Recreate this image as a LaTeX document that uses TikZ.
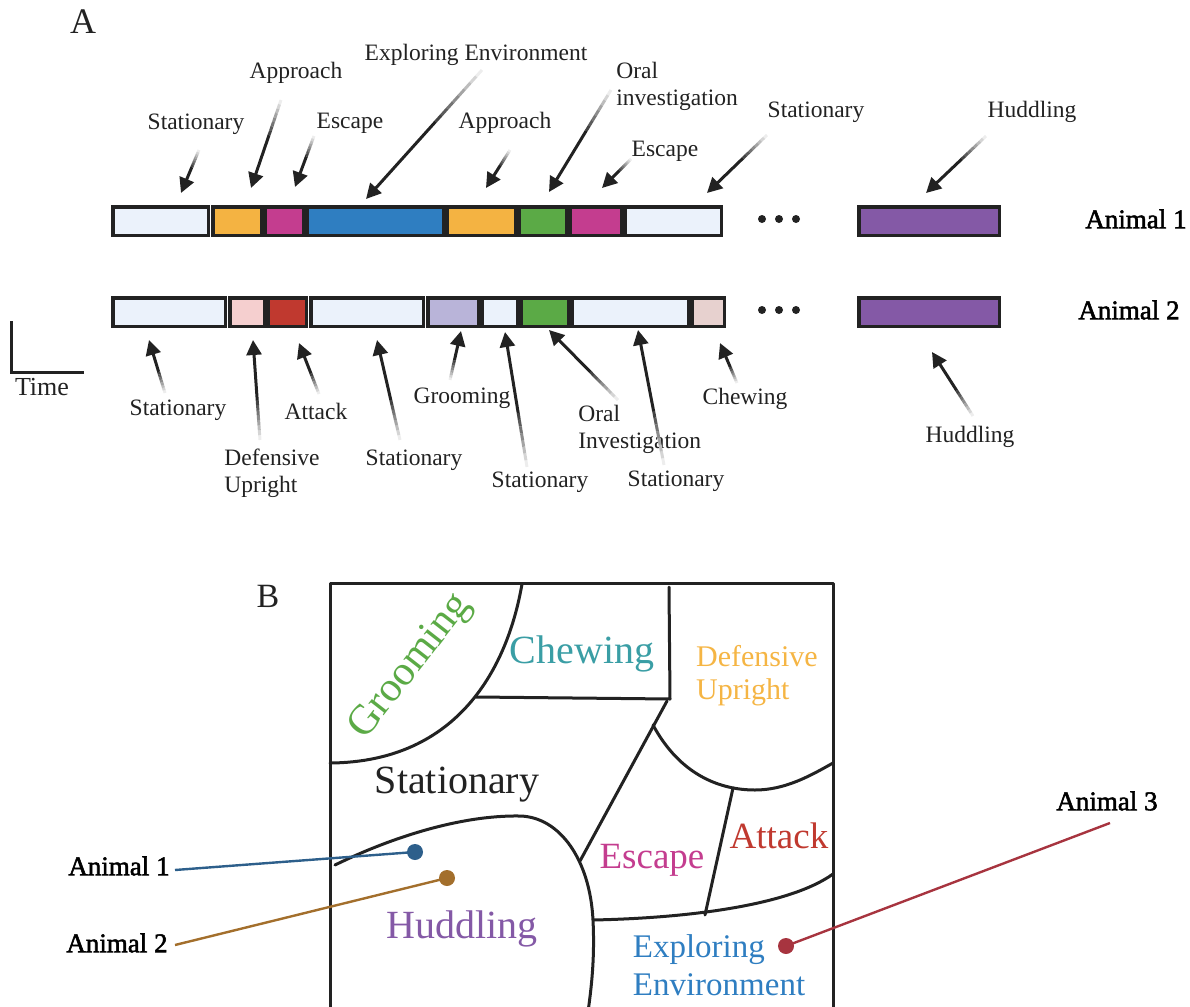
\documentclass[tikz,border=0pt]{standalone}
\usepackage{fontspec}
\setmainfont{Liberation Serif}
\newfontfamily\heavyserif[FakeBold=2]{Liberation Serif}
\usetikzlibrary{arrows.meta,calc}

\definecolor{ink}{HTML}{222222}
\definecolor{calm}{HTML}{EBF2FB}
\definecolor{amber}{HTML}{F4B342}
\definecolor{plum}{HTML}{C43D8F}
\definecolor{ocean}{HTML}{2F7EC1}
\definecolor{leaf}{HTML}{5BAA46}
\definecolor{violet}{HTML}{8459A6}
\definecolor{blush}{HTML}{F5CFCF}
\definecolor{brick}{HTML}{C0392F}
\definecolor{lilac}{HTML}{B9B4D9}
\definecolor{rose}{HTML}{E7D1CF}
\definecolor{teal}{HTML}{3A9EA5}
\definecolor{sand}{HTML}{F5B544}
\definecolor{navy}{HTML}{2D5F8B}
\definecolor{bronze}{HTML}{A36F2C}
\definecolor{wine}{HTML}{A7343F}

\tikzset{
  segbox/.style={draw=ink, line width=1.75pt, rectangle, inner sep=0pt, minimum height=14.25pt},
  lab/.style={inner sep=0pt, text=ink, font=\fontsize{11.75pt}{13.5pt}\selectfont},
  animal/.style={inner sep=0pt, text=black, font=\heavyserif\fontsize{13.5pt}{16pt}\selectfont},
  panel/.style={inner sep=0pt, text=ink},
  arrowline/.style={line width=1.5pt, draw=ink, -{Triangle[length=7.5pt,width=7.5pt]}},
  dotnode/.style={circle, fill=ink, inner sep=0pt, minimum size=4pt},
  region/.style={line width=1.5pt, draw=ink, line cap=round, line join=round},
  pin/.style={circle, inner sep=0pt, minimum size=8pt},
  big/.style={inner sep=0pt, font=\fontsize{20pt}{24pt}\selectfont}
}

% one bar segment: name, left edge, right edge, centre line, fill
\newcommand\seg[5]{\node[segbox, fill=#5, minimum width={(#3-#2-3.5)*0.5pt}] (#1) at ({(#2+#3)/2},#4) {};}

% arrow whose shaft fades in from the tail
\newcommand\fadearrow[2]{%
  \foreach \k in {0,...,7}{%
    \pgfmathtruncatemacro\fadelvl{8+11*\k}%
    \draw[line width=1.5pt, draw=ink!\fadelvl!white] ($(#1)!{\k/20}!(#2)$) -- ($(#1)!{(\k+1)/20}!(#2)$);
  }%
  \draw[arrowline] ($(#1)!0.4!(#2)$) -- (#2);
}

\begin{document}
\begin{tikzpicture}[x=0.5pt,y=-0.5pt]
\useasboundingbox (0,0) rectangle (1190,1007);

% ---------------- panel A ----------------
\node[panel, font=\fontsize{18pt}{20pt}\selectfont] (labA) at (83,22) {A};

% animal 1 timeline
\seg{a1}{111}{210}{221}{calm}
\seg{a2}{211}{263}{221}{amber}
\seg{a3}{263}{305}{221}{plum}
\seg{a4}{305}{445}{221}{ocean}
\seg{a5}{445}{517}{221}{amber}
\seg{a6}{517}{568}{221}{leaf}
\seg{a7}{568}{623}{221}{plum}
\seg{a8}{623}{723}{221}{calm}
\seg{a9}{857}{1001}{221}{violet}

% animal 2 timeline
\seg{b1}{111}{227}{312}{calm}
\seg{b2}{228}{266}{312}{blush}
\seg{b3}{266}{308}{312}{brick}
\seg{b4}{309}{425}{312}{calm}
\seg{b5}{426}{480}{312}{lilac}
\seg{b6}{480}{519}{312}{calm}
\seg{b7}{519}{570}{312}{leaf}
\seg{b8}{570}{690}{312}{calm}
\seg{b9}{690}{726}{312}{rose}
\seg{b10}{857}{1001}{312}{violet}

% ellipsis dots
\node[dotnode] (e1) at (762,219) {};
\node[dotnode] (e2) at (779,219) {};
\node[dotnode] (e3) at (796,219) {};
\node[dotnode] (f1) at (762,310) {};
\node[dotnode] (f2) at (779,310) {};
\node[dotnode] (f3) at (796,310) {};

\node[animal, anchor=east] (anA) at (1187,219) {Animal 1};
\node[animal, anchor=east] (anB) at (1180,310) {Animal 2};

% time axis
\draw[line width=1.5pt, draw=ink] (11,321) -- (11,372) -- (84,372);
\node[panel, font=\fontsize{13pt}{15pt}\selectfont] (tm) at (42,387) {Time};

% labels above the animal 1 timeline
\node[lab] (u1) at (196,124) {Stationary};
\node[lab] (u2) at (296,73) {Approach};
\node[lab] (u3) at (350,123) {Escape};
\node[lab] (u4) at (476,55) {Exploring Environment};
\node[lab] (u5) at (505,123) {Approach};
\node[lab, align=left, anchor=west] (u6) at (616,86) {Oral\\investigation};
\node[lab] (u7) at (665,151) {Escape};
\node[lab] (u8) at (816,112) {Stationary};
\node[lab] (u9) at (1032,112) {Huddling};

\coordinate (ut1) at (199,150); \coordinate (uh1) at (181,193);
\coordinate (ut2) at (281,100); \coordinate (uh2) at (251,188);
\coordinate (ut3) at (314,136); \coordinate (uh3) at (295,187);
\coordinate (ut4) at (482,70);  \coordinate (uh4) at (366,199);
\coordinate (ut5) at (510,150); \coordinate (uh5) at (486,188);
\coordinate (ut6) at (611,90);  \coordinate (uh6) at (549,192);
\coordinate (ut7) at (631,159); \coordinate (uh7) at (602,188);
\coordinate (ut8) at (767,135); \coordinate (uh8) at (707,193);
\coordinate (ut9) at (986,136); \coordinate (uh9) at (926,193);

\fadearrow{ut1}{uh1}
\fadearrow{ut2}{uh2}
\fadearrow{ut3}{uh3}
\fadearrow{ut4}{uh4}
\fadearrow{ut5}{uh5}
\fadearrow{ut6}{uh6}
\fadearrow{ut7}{uh7}
\fadearrow{ut8}{uh8}
\fadearrow{ut9}{uh9}

% labels below the animal 2 timeline
\node[lab] (w1) at (178,410) {Stationary};
\node[lab, align=left, anchor=west] (w2) at (224,473) {Defensive\\Upright};
\node[lab] (w3) at (316,411) {Attack};
\node[lab] (w4) at (414,460) {Stationary};
\node[lab] (w5) at (462,398) {Grooming};
\node[lab] (w6) at (540,482) {Stationary};
\node[lab, align=left, anchor=west] (w7) at (578,429) {Oral\\Investigation};
\node[lab] (w8) at (676,481) {Stationary};
\node[lab] (w9) at (745,399) {Chewing};
\node[lab] (w10) at (970,437) {Huddling};

\coordinate (wt1) at (165,393);  \coordinate (wh1) at (149,340);
\coordinate (wt2) at (260,440);  \coordinate (wh2) at (253,340);
\coordinate (wt3) at (319,394);  \coordinate (wh3) at (299,343);
\coordinate (wt4) at (400,440);  \coordinate (wh4) at (377,340);
\coordinate (wt5) at (450,380);  \coordinate (wh5) at (461,331);
\coordinate (wt6) at (527,467);  \coordinate (wh6) at (505,332);
\coordinate (wt7) at (618,400);  \coordinate (wh7) at (549,330);
\coordinate (wt8) at (664,465);  \coordinate (wh8) at (638,330);
\coordinate (wt9) at (737,383);  \coordinate (wh9) at (720,343);
\coordinate (wt10) at (973,416); \coordinate (wh10) at (932,352);

\fadearrow{wt1}{wh1}
\fadearrow{wt2}{wh2}
\fadearrow{wt3}{wh3}
\fadearrow{wt4}{wh4}
\fadearrow{wt5}{wh5}
\fadearrow{wt6}{wh6}
\fadearrow{wt7}{wh7}
\fadearrow{wt8}{wh8}
\fadearrow{wt9}{wh9}
\fadearrow{wt10}{wh10}

% ---------------- panel B ----------------
\node[panel, font=\fontsize{17pt}{20pt}\selectfont] (labB) at (268,596) {B};

% behaviour map outline
\draw[region] (330,1012) -- (330,583) -- (833,583) -- (833,1012);
% grooming
\draw[region] (522,584) .. controls (508,665) and (460,762) .. (330,763);
% chewing
\draw[region] (476,697) -- (670,699) -- (669,587);
% escape / stationary border
\draw[region] (667,701) -- (580,861);
% defensive upright
\draw[region] (653,725) .. controls (680,775) and (720,790) .. (755,790) .. controls (785,790) and (810,776) .. (833,763);
% attack
\draw[region] (733,788) -- (705,915);
% exploring environment
\draw[region] (593,920) .. controls (690,918) and (790,905) .. (833,874);
% huddling
\draw[region] (335,865) .. controls (390,838) and (460,815) .. (520,816) .. controls (560,817) and (590,860) .. (593,920) .. controls (595,960) and (591,990) .. (588,1012);

\node[big, text=leaf, rotate=52, font=\fontsize{21pt}{24pt}\selectfont] (rg) at (411,667) {Grooming};
\node[big, text=teal, anchor=base] (rc) at (582,663) {Chewing};
\node[inner sep=0pt, text=sand, align=left, font=\fontsize{15pt}{16.5pt}\selectfont] (rd) at (757,676) {Defensive\\Upright};
\node[big, text=ink, anchor=base] (rs) at (457,793) {Stationary};
\node[big, text=plum, anchor=base, font=\fontsize{18.5pt}{22pt}\selectfont] (re) at (652,868) {Escape};
\node[big, text=brick, anchor=base, font=\fontsize{18.5pt}{22pt}\selectfont] (ra) at (779,848) {Attack};
\node[big, text=violet, anchor=base] (rh) at (462,938) {Huddling};
\node[inner sep=0pt, text=ocean, align=left, font=\fontsize{16.5pt}{19pt}\selectfont] (rx) at (719,965) {Exploring\\Environment};

% animals placed on the map
\node[animal, anchor=east] (m1) at (170,866) {Animal 1};
\node[animal, anchor=east] (m2) at (168,943) {Animal 2};
\node[animal] (m3) at (1107,801) {Animal 3};

\node[pin, fill=navy] (p1) at (415,852) {};
\node[pin, fill=bronze] (p2) at (447,878) {};
\node[pin, fill=wine] (p3) at (786,946) {};

\coordinate (s1) at (175,870);
\coordinate (s2) at (175,945);
\coordinate (s3) at (1110,823);
\draw[line width=1.2pt, draw=navy] (s1) -- (p1.center);
\draw[line width=1.2pt, draw=bronze] (s2) -- (p2.center);
\draw[line width=1.2pt, draw=wine] (s3) -- (p3.center);
\end{tikzpicture}
\end{document}
